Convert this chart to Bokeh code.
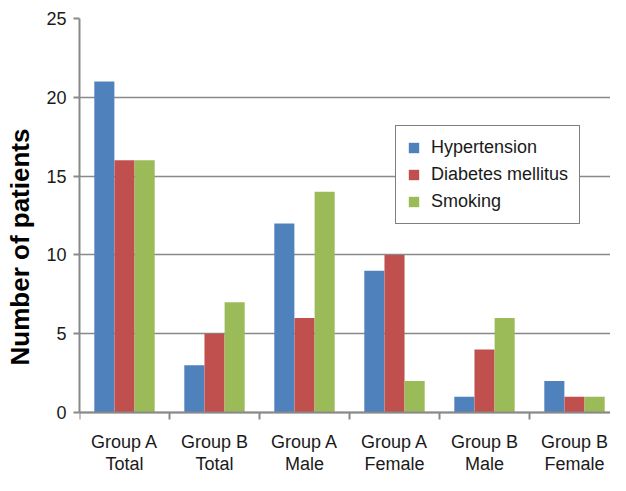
from bokeh.plotting import figure
from bokeh.models import ColumnDataSource, Range1d, FixedTicker, Legend, LegendItem, Span
from bokeh.core.properties import value
from bokeh.transform import dodge
from bokeh.embed import file_html
from bokeh.resources import INLINE

line1 = ["Group A", "Group B", "Group A", "Group A", "Group B", "Group B"]
line2 = ["Total", "Total", "Male", "Female", "Male", "Female"]
hypertension = [21, 3, 12, 9, 1, 2]
diabetes = [16, 5, 6, 10, 4, 1]
smoking = [16, 7, 14, 2, 6, 1]
y_ticks = [0, 5, 10, 15, 20, 25]

n = len(line1)
centers = [i + 0.5 for i in range(n)]
bounds = list(range(n))

FONT = "Liberation Sans"
GRAY = "#898989"
TXT = "#1a1a1a"

# layout in pixels
W, H = 610, 475
TOP = 18          # frame top (value 25)
ZERO_PX = 412     # pixel row of the value 0
YMAX = 25
ppu = (ZERO_PX - TOP) / YMAX
y_low = -(H - ZERO_PX) / ppu
y_line1 = -29 / ppu
y_line2 = -51 / ppu
y_tick = -7 / ppu

src = ColumnDataSource(dict(x=centers, h=hypertension, d=diabetes, s=smoking,
                            l1=line1, l2=line2,
                            y1=[y_line1] * n, y2=[y_line2] * n))
tick_src = ColumnDataSource(dict(x=bounds, y0=[0] * n, y1=[y_tick] * n))

p = figure(width=W, height=H, output_backend="svg", toolbar_location=None,
           x_range=Range1d(0, 5.9), y_range=Range1d(y_low, YMAX),
           min_border_left=79, min_border_right=0, min_border_top=TOP, min_border_bottom=0)
p.outline_line_color = None
p.background_fill_color = "white"
p.border_fill_color = "white"
p.xaxis.visible = False

bw = 0.223
off = 0.224
r1 = p.vbar(x=dodge("x", -off, range=p.x_range), top="h", width=bw, source=src,
            fill_color="#4F81BD", line_color=None)
r2 = p.vbar(x=dodge("x", 0, range=p.x_range), top="d", width=bw, source=src,
            fill_color="#C0504D", line_color=None)
r3 = p.vbar(x=dodge("x", off, range=p.x_range), top="s", width=bw, source=src,
            fill_color="#9BBB59", line_color=None)

p.xgrid.visible = False
p.ygrid.grid_line_color = GRAY
p.ygrid.grid_line_width = 1.5
p.ygrid.ticker = FixedTicker(ticks=y_ticks)

# x axis line and category boundary ticks
p.add_layout(Span(location=0, dimension="width", line_color=GRAY, line_width=2))
p.segment(x0="x", y0="y0", x1="x", y1="y1", source=tick_src,
          line_color=GRAY, line_width=2)

# category labels (two lines)
p.text(x="x", y="y1", text="l1", source=src, text_align="center", text_baseline="middle",
       text_font=value(FONT), text_font_size="18px", text_color=TXT)
p.text(x="x", y="y2", text="l2", source=src, text_align="center", text_baseline="middle",
       text_font=value(FONT), text_font_size="18px", text_color=TXT)

ya = p.yaxis[0]
ya.ticker = FixedTicker(ticks=y_ticks, minor_ticks=[])
ya.bounds = (0, YMAX)
ya.axis_line_color = GRAY
ya.axis_line_width = 2
ya.major_tick_line_color = GRAY
ya.major_tick_line_width = 2
ya.major_tick_out = 6
ya.major_tick_in = 0
ya.minor_tick_line_color = None
ya.major_label_text_font = FONT
ya.major_label_text_font_size = "18px"
ya.major_label_text_color = TXT
ya.major_label_standoff = 7
ya.axis_label = "Number of patients"
ya.axis_label_text_font = FONT
ya.axis_label_text_font_size = "26px"
ya.axis_label_text_font_style = "bold"
ya.axis_label_text_color = "black"
ya.axis_label_standoff = 8

legend = Legend(items=[LegendItem(label="Hypertension", renderers=[r1]),
                       LegendItem(label="Diabetes mellitus", renderers=[r2]),
                       LegendItem(label="Smoking", renderers=[r3])],
                location=(316, 251))
legend.label_text_font = FONT
legend.label_text_font_size = "18px"
legend.label_text_color = TXT
legend.glyph_width = 13
legend.glyph_height = 13
legend.label_height = 20
legend.spacing = 6
legend.padding = 11
legend.margin = 0
legend.label_standoff = 11
legend.border_line_color = "black"
legend.border_line_width = 1
legend.background_fill_alpha = 1
p.add_layout(legend, "center")

open("out.html", "w").write(file_html(p, INLINE))
